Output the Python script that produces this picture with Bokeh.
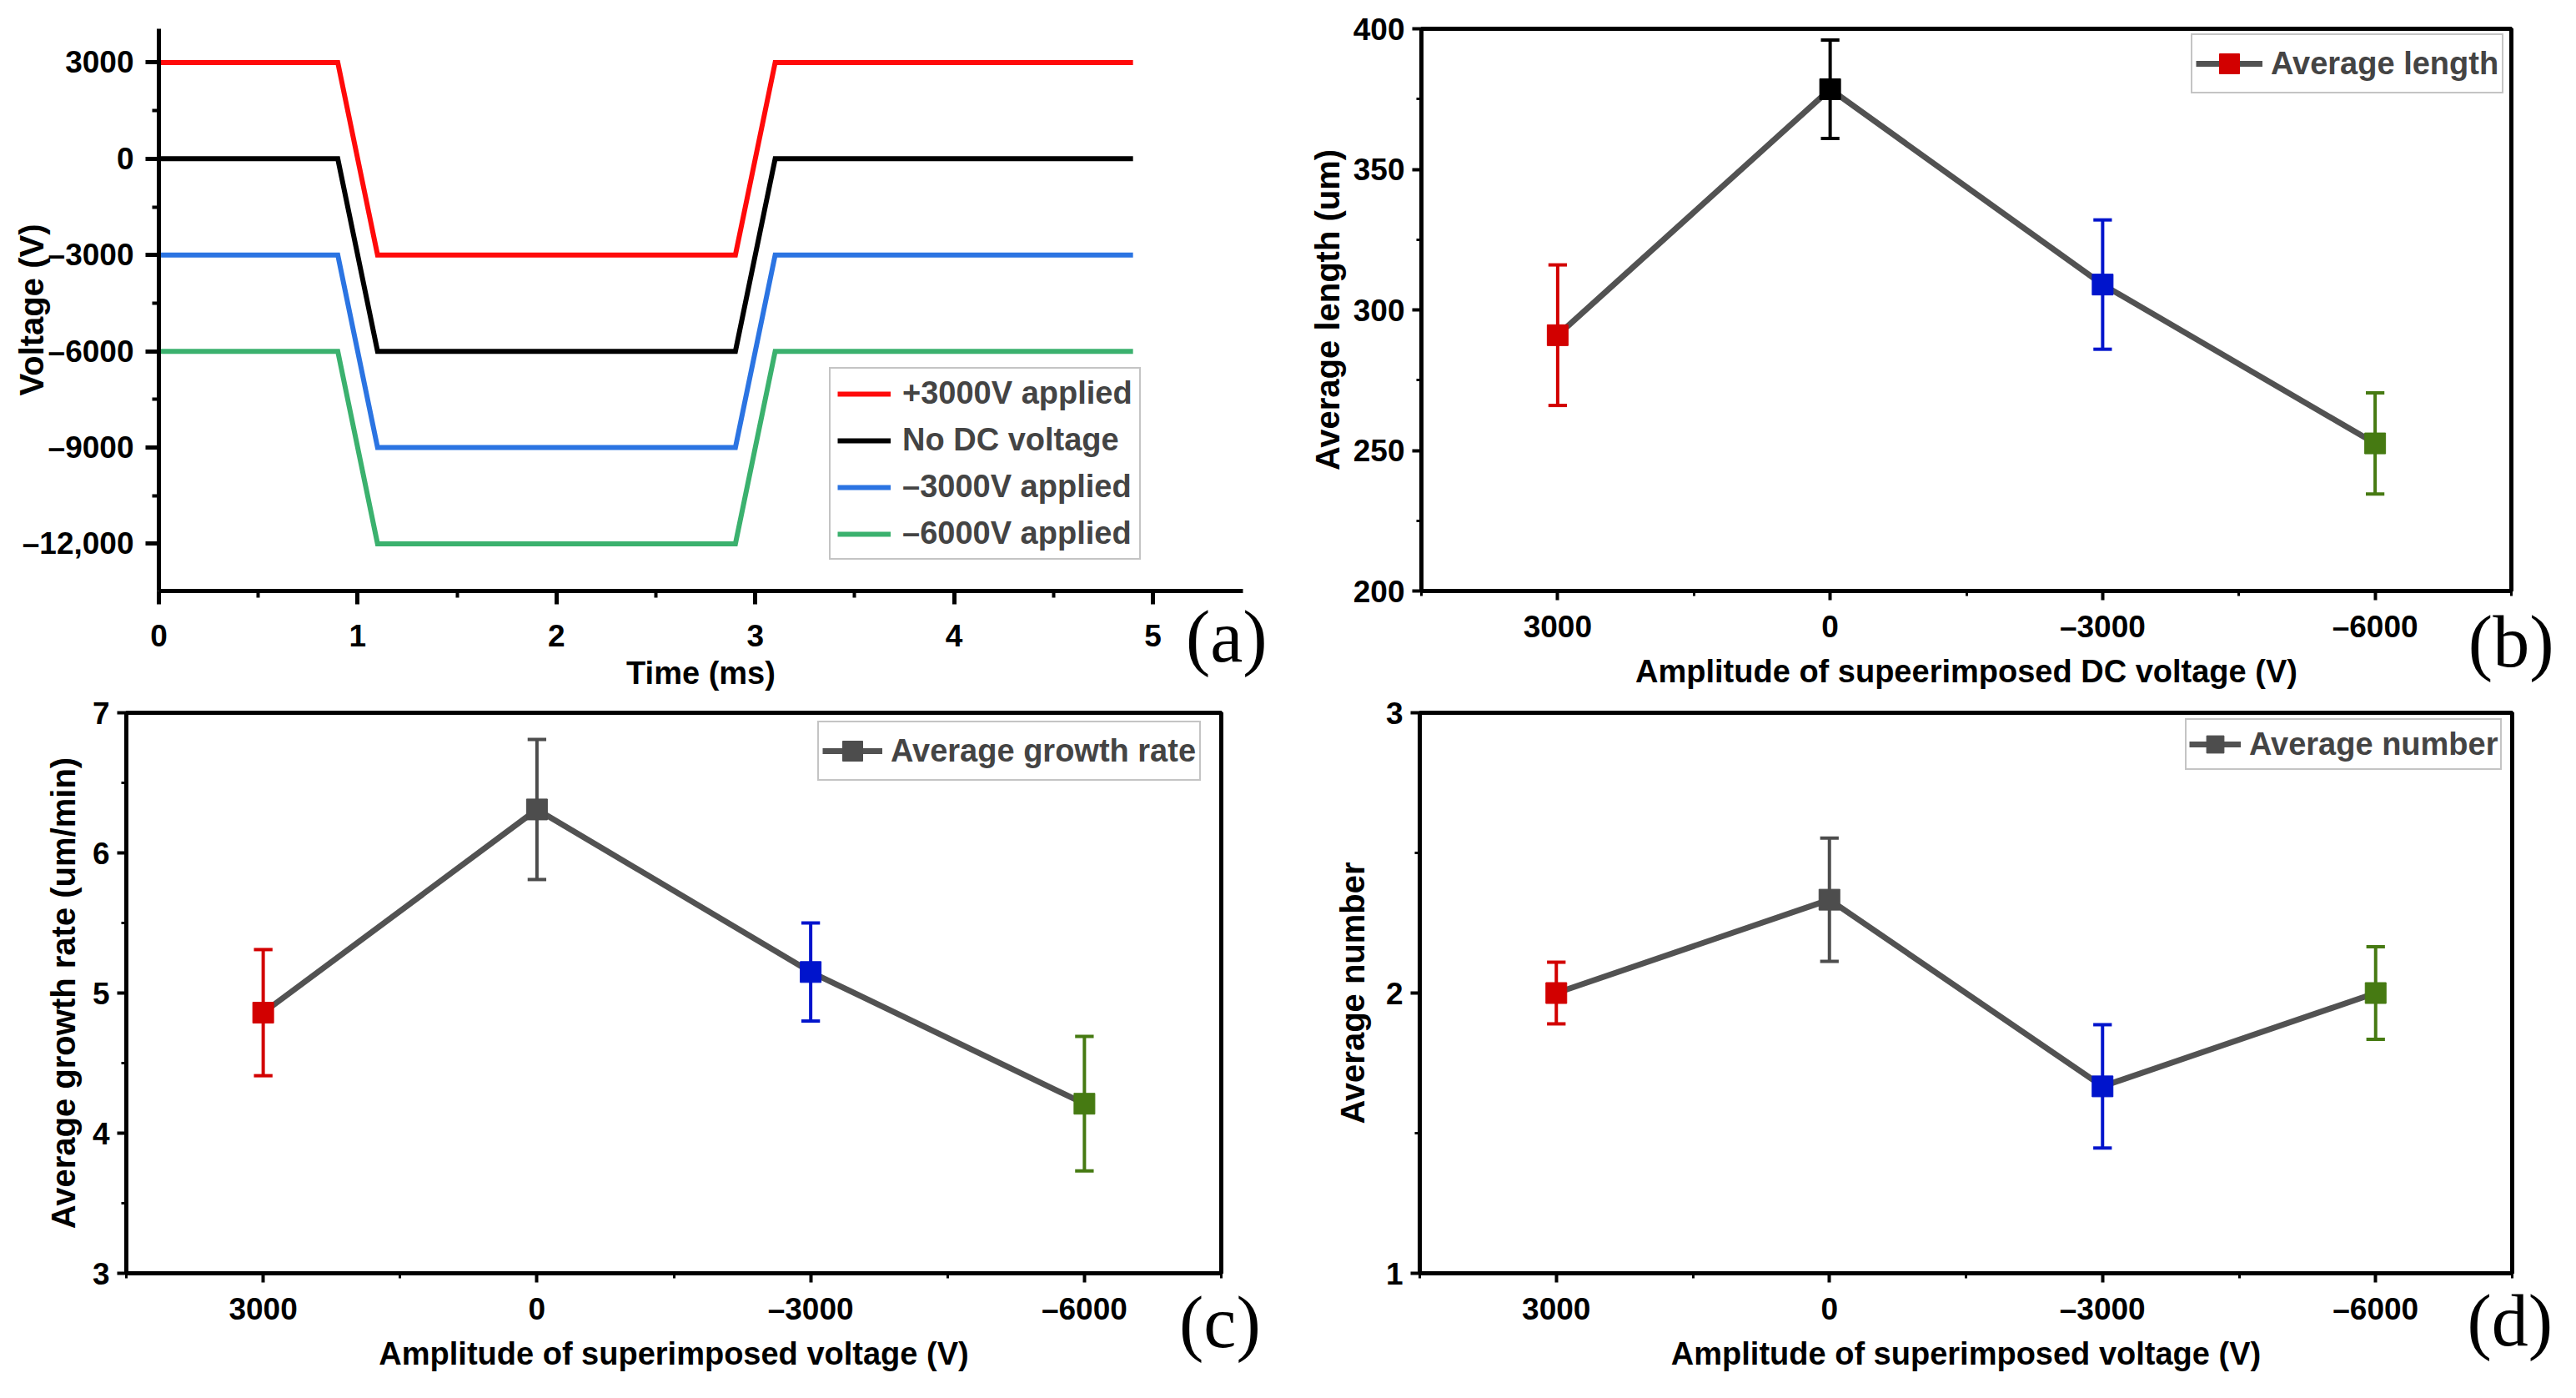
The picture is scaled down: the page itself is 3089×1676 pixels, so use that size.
from bokeh.plotting import figure
from bokeh.models import (ColumnDataSource, FixedTicker, Legend, LegendItem, LinearAxis,
                          Range1d)
from bokeh.layouts import column, row
from bokeh.embed import file_html
from bokeh.resources import INLINE

# ---------------- data ----------------
# (a) applied waveforms
time_ms = [0, 0.9, 1.1, 2.9, 3.1, 4.9]
v_plus3000 = [3000, 3000, -3000, -3000, 3000, 3000]
v_no_dc = [0, 0, -6000, -6000, 0, 0]
v_minus3000 = [-3000, -3000, -9000, -9000, -3000, -3000]
v_minus6000 = [-6000, -6000, -12000, -12000, -6000, -6000]
series_a = [v_plus3000, v_no_dc, v_minus3000, v_minus6000]
series_labels_a = ["+3000V applied", "No DC voltage", "–3000V applied", "–6000V applied"]
series_colors_a = ["#FF0A0A", "#000000", "#2B74E2", "#3BB16E"]
voltage_ticks = [3000, 0, -3000, -6000, -9000, -12000]
voltage_tick_labels = ["3000", "0", "–3000", "–6000", "–9000", "–12,000"]
time_ticks = [0, 1, 2, 3, 4, 5]

# (b)-(d) measurements vs superimposed DC voltage
categories = ["3000", "0", "–3000", "–6000"]
cat_pos = [1, 2, 3, 4]
avg_length = [291.0, 378.5, 309.0, 252.5]
avg_length_err = [25.0, 17.5, 23.0, 18.0]
avg_growth = [4.86, 6.31, 5.15, 4.21]
avg_growth_err = [0.45, 0.50, 0.35, 0.48]
avg_number = [2.0, 2.333, 1.667, 2.0]
avg_number_err = [0.11, 0.22, 0.22, 0.165]
point_colors_b = ["#D20000", "#000000", "#0014CC", "#467A12"]
point_colors_cd = ["#D20000", "#4D4D4D", "#0014CC", "#467A12"]

SANS = "Liberation Sans"
SERIF = "Liberation Serif"
LINE_GREY = "#525252"


def style_axes(p, line_w, major_out, minor_out, x_standoff, y_standoff):
    for ax in (p.xaxis[0], p.yaxis[0]):
        ax.axis_line_width = line_w
        ax.axis_line_color = "black"
        ax.major_tick_line_width = line_w
        ax.minor_tick_line_width = line_w - 1
        ax.major_tick_out = major_out
        ax.major_tick_in = 0
        ax.minor_tick_out = minor_out
        ax.minor_tick_in = 0
        ax.major_label_text_font = SANS
        ax.major_label_text_font_style = "bold"
        ax.major_label_text_font_size = "37px"
        ax.major_label_text_color = "black"
        ax.axis_label_text_font = SANS
        ax.axis_label_text_font_style = "bold"
        ax.axis_label_text_color = "black"
    p.xaxis[0].axis_label_text_font_size = "38px"
    p.yaxis[0].axis_label_text_font_size = "40px"
    p.xaxis[0].major_label_standoff = x_standoff
    p.yaxis[0].major_label_standoff = y_standoff
    p.xgrid.visible = False
    p.ygrid.visible = False


def set_titles(p, xtitle, ytitle, xs, ys):
    p.xaxis[0].axis_label = xtitle
    p.xaxis[0].axis_label_standoff = xs
    p.yaxis[0].axis_label = ytitle
    p.yaxis[0].axis_label_standoff = ys


def add_tag(p, tag, tag_x, standoff):
    # panel letter, rendered as the single label of an extra, line-less axis
    ax = LinearAxis(ticker=FixedTicker(ticks=[tag_x], minor_ticks=[]),
                    major_label_overrides={tag_x: tag},
                    axis_line_color=None, major_tick_line_color=None,
                    minor_tick_line_color=None, major_tick_out=0, major_tick_in=0,
                    major_label_standoff=standoff,
                    major_label_text_font=SERIF, major_label_text_font_size="88px",
                    major_label_text_font_style="normal", major_label_text_color="black")
    p.add_layout(ax, "below")


def make_fig(width, height, left, right, top, bottom, xr, yr):
    return figure(width=width, height=height, x_range=Range1d(*xr), y_range=Range1d(*yr),
                  output_backend="svg", toolbar_location=None, tools="",
                  min_border_left=left, min_border_right=right,
                  min_border_top=top, min_border_bottom=bottom,
                  background_fill_color="white", border_fill_color="white")


# ---------------- panel (a) ----------------
pa = make_fig(1560, 830, 190, 70, 34, 122, (0, 5.453), (-13470, 4050))
pa.outline_line_color = None
style_axes(pa, 5, 16, 8, 24, 14)
pa.xaxis[0].ticker = FixedTicker(ticks=time_ticks, minor_ticks=[0.5, 1.5, 2.5, 3.5, 4.5])
pa.yaxis[0].ticker = FixedTicker(ticks=voltage_ticks,
                                 minor_ticks=[1500, -1500, -4500, -7500, -10500, -13500])
pa.yaxis[0].major_label_overrides = {t: s for t, s in zip(voltage_ticks, voltage_tick_labels)}
pa.xaxis[0].major_label_overrides = {t: str(t) for t in time_ticks}
set_titles(pa, "Time (ms)", "Voltage (V)", 8, -36)

items_a = []
for vals, lab, col in zip(series_a, series_labels_a, series_colors_a):
    r = pa.line(time_ms, vals, line_color=col, line_width=6, line_join="miter")
    items_a.append(LegendItem(label=lab, renderers=[r]))
leg_a = Legend(items=items_a, location=(804, 37), orientation="vertical",
               glyph_width=64, glyph_height=42, label_height=42, label_width=10,
               spacing=13, padding=8, margin=0, label_standoff=14,
               label_text_font=SANS, label_text_font_style="bold", label_text_font_size="38px",
               border_line_color="#8a8a8a", border_line_width=2, background_fill_color="white",
               background_fill_alpha=1.0)
pa.add_layout(leg_a)
add_tag(pa, "(a)", 5.37, -116)


# ---------------- panels (b)-(d) ----------------
def make_point_panel(width, height, left, right, top, bottom, yr, yticks, yminor,
                     means, errs, colors, legend_label, legend_index,
                     legend_loc, legend_glyph_w, legend_glyph_h, legend_pad,
                     ytitle, xtitle, ytitle_standoff, tag, tag_x, tag_standoff):
    p = make_fig(width, height, left, right, top, bottom, (0.5, 4.5), yr)
    p.outline_line_color = "black"
    p.outline_line_width = 5
    style_axes(p, 4, 11, 6, 11, 9)
    p.xaxis[0].ticker = FixedTicker(ticks=cat_pos, minor_ticks=[0.5, 1.5, 2.5, 3.5, 4.5])
    p.xaxis[0].major_label_overrides = {t: s for t, s in zip(cat_pos, categories)}
    p.yaxis[0].ticker = FixedTicker(ticks=yticks, minor_ticks=yminor)
    p.yaxis[0].major_label_overrides = {t: str(t) for t in yticks}
    set_titles(p, xtitle, ytitle, 9, ytitle_standoff)

    upper = [m + e for m, e in zip(means, errs)]
    lower = [m - e for m, e in zip(means, errs)]
    cap = 0.034
    src = ColumnDataSource(dict(x=cat_pos, y=means, upper=upper, lower=lower,
                                xl=[x - cap for x in cat_pos], xr=[x + cap for x in cat_pos],
                                color=colors))
    ln = p.line("x", "y", source=src, line_color=LINE_GREY, line_width=7)
    p.segment("x", "lower", "x", "upper", source=src, line_color="color", line_width=4)
    p.segment("xl", "upper", "xr", "upper", source=src, line_color="color", line_width=4)
    p.segment("xl", "lower", "xr", "lower", source=src, line_color="color", line_width=4)
    mk = p.scatter("x", "y", source=src, marker="square", size=25, fill_color="color",
                   line_color="color", line_width=1)
    leg = Legend(items=[LegendItem(label=legend_label, renderers=[ln, mk], index=legend_index)],
                 location=legend_loc, glyph_width=legend_glyph_w, glyph_height=legend_glyph_h,
                 label_height=legend_glyph_h, label_width=10, padding=legend_pad, margin=0,
                 label_standoff=10, spacing=0,
                 label_text_font=SANS, label_text_font_style="bold", label_text_font_size="38px",
                 border_line_color="#8a8a8a", border_line_width=2,
                 background_fill_color="white", background_fill_alpha=1.0)
    p.add_layout(leg)
    add_tag(p, tag, tag_x, tag_standoff)
    return p


pb = make_point_panel(1513, 830, 144, 62, 34, 122, (200, 400), [200, 250, 300, 350, 400],
                      [225, 275, 325, 375], avg_length, avg_length_err, point_colors_b,
                      "Average length", 0, (923, 596), 80, 60, 4,
                      "Average length (um)", "Amplitude of supeerimposed DC voltage (V)", 6,
                      "(b)", 4.499, -108)

pc = make_point_panel(1560, 830, 151, 96, 24, 134, (3, 7), [3, 4, 5, 6, 7],
                      [3.5, 4.5, 5.5, 6.5], avg_growth, avg_growth_err, point_colors_cd,
                      "Average growth rate", 1, (829, 590), 72, 60, 4,
                      "Average growth rate (um/min)", "Amplitude of superimposed voltage (V)", 10,
                      "(c)", 4.495, -110)

pd_ = make_point_panel(1513, 830, 142, 61, 24, 134, (1, 3), [1, 2, 3],
                       [1.5, 2.5], avg_number, avg_number_err, point_colors_cd,
                       "Average number", 1, (918, 603), 62, 52, 3,
                       "Average number", "Amplitude of superimposed voltage (V)", 15,
                       "(d)", 4.492, -112)

layout = column(row(pa, pb, spacing=0), row(pc, pd_, spacing=0), spacing=0)

with open("out.html", "w") as f:
    f.write(file_html(layout, INLINE))
